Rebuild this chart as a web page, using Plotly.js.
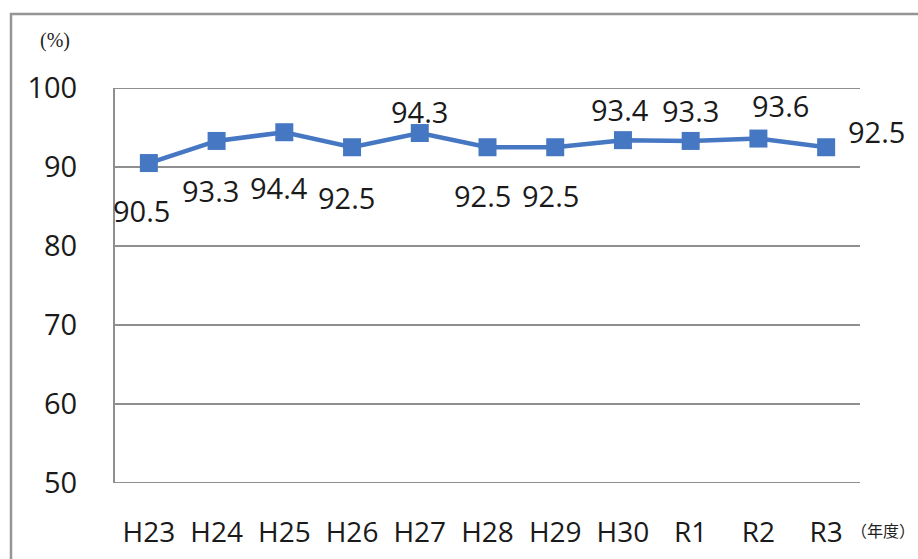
<!DOCTYPE html>
<html>
<head>
<meta charset="utf-8">
<script src="https://cdn.plot.ly/plotly-3.0.1.min.js"></script>
<style>
html,body{margin:0;padding:0;background:#fff;}
#chart{width:918px;height:559px;}
</style>
</head>
<body>
<div id="chart"></div>
<script>
const categories = ["H23","H24","H25","H26","H27","H28","H29","H30","R1","R2","R3"];
const values = [90.5, 93.3, 94.4, 92.5, 94.3, 92.5, 92.5, 93.4, 93.3, 93.6, 92.5];
const yTicks = [50, 60, 70, 80, 90, 100];

// label offsets (style only)
const labelDx = [-7, -6, -5, -6, 0, -5, -5, -3, 0, 22, 50];
const labelDy = [-47, -50, -55, -50, 22, -48, -48, 31, 30, 33, 16];

const blue = "#4677c3";
const gridGray = "#8f8f8f";
const font = "'Open Sans', 'Noto Sans', sans-serif";

const trace = {
  x: categories,
  y: values,
  type: "scatter",
  mode: "lines+markers",
  line: {color: blue, width: 4.5},
  marker: {symbol: "square", size: 18, color: blue},
  hoverinfo: "skip",
  showlegend: false
};

const annotations = categories.map((c, i) => ({
  x: c, y: values[i], xref: "x", yref: "y",
  text: values[i].toFixed(1),
  showarrow: false,
  xshift: labelDx[i], yshift: labelDy[i],
  font: {family: font, size: 29, color: "#1a1a1a"},
  xanchor: "center", yanchor: "middle"
}));

annotations.push({
  xref: "paper", yref: "paper", x: -0.0805, y: 1.12,
  text: "(%)", showarrow: false,
  font: {family: "'Liberation Serif', serif", size: 20, color: "#222"},
  xanchor: "center", yanchor: "middle"
});
annotations.push({
  xref: "paper", yref: "paper", x: 1.031, y: -0.119,
  text: "（年度）", showarrow: false,
  font: {family: "'Noto Sans CJK JP', sans-serif", size: 16, color: "#222"},
  xanchor: "center", yanchor: "middle"
});

const layout = {
  width: 918, height: 559,
  margin: {l: 115, r: 58, t: 88, b: 76},
  paper_bgcolor: "#fff",
  plot_bgcolor: "#fff",
  xaxis: {
    type: "category",
    range: [-0.5, categories.length - 0.5],
    showgrid: false, zeroline: false, showline: false,
    ticks: "outside", ticklen: 24, tickcolor: "rgba(0,0,0,0)",
    tickfont: {family: font, size: 28, color: "#1a1a1a"},
    fixedrange: true
  },
  yaxis: {
    range: [50, 100],
    tickvals: yTicks,
    showgrid: true, gridcolor: gridGray, gridwidth: 2,
    zeroline: false,
    showline: true, linecolor: gridGray, linewidth: 2,
    ticks: "outside", ticklen: 30, tickcolor: "rgba(0,0,0,0)",
    tickfont: {family: font, size: 29, color: "#1a1a1a"},
    fixedrange: true
  },
  shapes: [
    {type: "line", xref: "paper", yref: "y", x0: 0, x1: 1, y0: 100, y1: 100,
     line: {color: gridGray, width: 2}, layer: "below"},
    {type: "line", xref: "paper", yref: "y", x0: 0, x1: 1, y0: 50, y1: 50,
     line: {color: gridGray, width: 2}, layer: "below"},
    {type: "path", xref: "paper", yref: "paper",
     path: "M -0.1396 -0.3 L -0.1396 1.1873 L 1.2 1.1873",
     line: {color: "#959595", width: 2.5}}
  ],
  annotations: annotations
};

Plotly.newPlot("chart", [trace], layout, {displayModeBar: false, staticPlot: true});
</script>
</body>
</html>
